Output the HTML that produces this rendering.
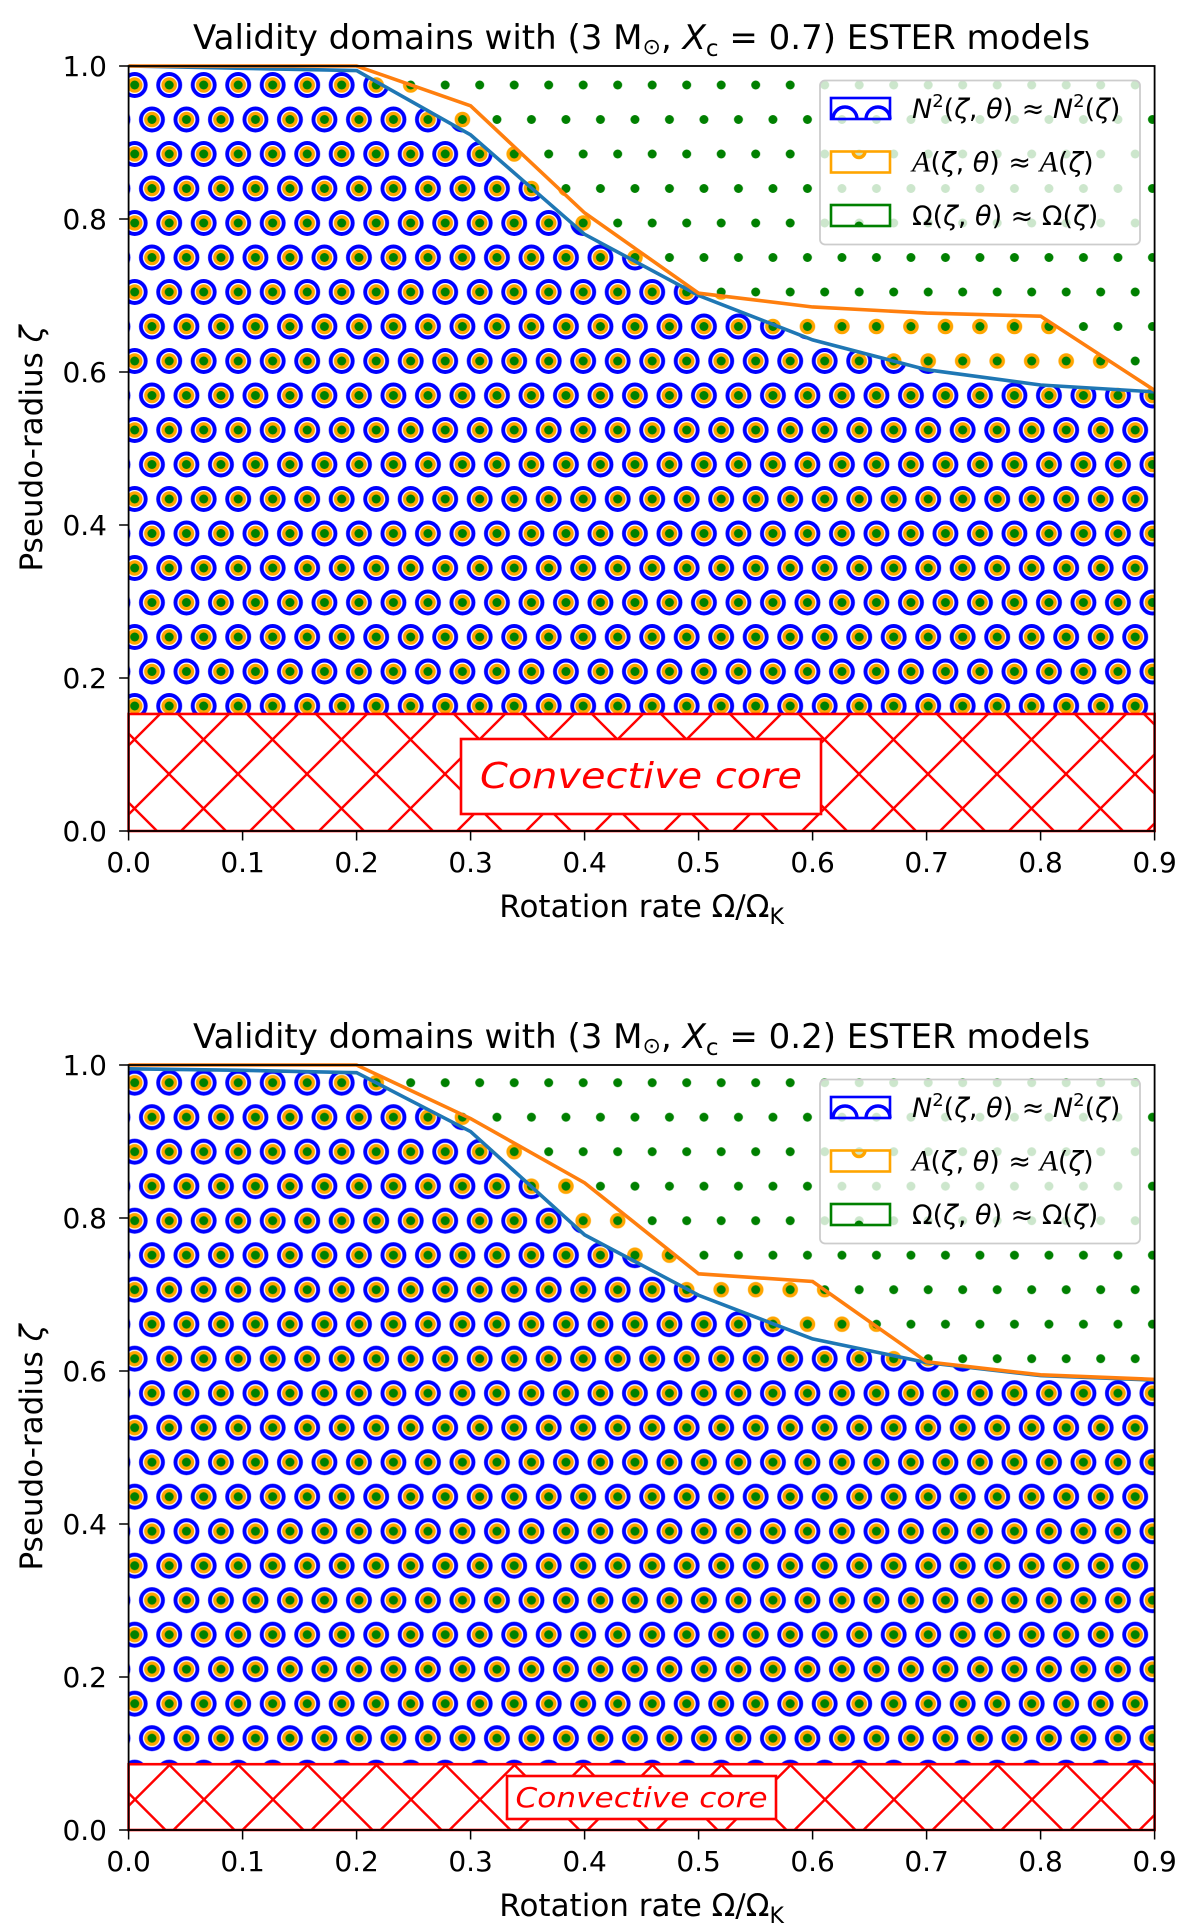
<!DOCTYPE html>
<html><head><meta charset="utf-8"><style>
html,body{margin:0;padding:0;background:#fff;}
svg{display:block;font-family:"DejaVu Sans","Liberation Sans",sans-serif;}
</style></head><body>
<svg id="fig" width="1200" height="1930" viewBox="0 0 1200 1930" xmlns="http://www.w3.org/2000/svg">
<defs>
  <pattern id="patO1" patternUnits="userSpaceOnUse" x="134.7" y="85" width="34.5" height="69">
    <g fill="none" stroke="#0000ff" stroke-width="3.9">
      <circle cx="0" cy="0" r="11"/><circle cx="34.5" cy="0" r="11"/><circle cx="0" cy="69" r="11"/><circle cx="34.5" cy="69" r="11"/><circle cx="17.25" cy="34.5" r="11"/>
    </g>
  </pattern>
  <pattern id="pato1" patternUnits="userSpaceOnUse" x="134.7" y="85" width="34.5" height="69">
    <g fill="none" stroke="#ffa500" stroke-width="4">
      <circle cx="0" cy="0" r="5.8"/><circle cx="34.5" cy="0" r="5.8"/><circle cx="0" cy="69" r="5.8"/><circle cx="34.5" cy="69" r="5.8"/><circle cx="17.25" cy="34.5" r="5.8"/>
    </g>
  </pattern>
  <pattern id="patd1" patternUnits="userSpaceOnUse" x="134.7" y="85" width="34.5" height="69">
    <g fill="#008000">
      <circle cx="0" cy="0" r="4.5"/><circle cx="34.5" cy="0" r="4.5"/><circle cx="0" cy="69" r="4.5"/><circle cx="34.5" cy="69" r="4.5"/><circle cx="17.25" cy="34.5" r="4.5"/>
    </g>
  </pattern>
  <pattern id="patO2" patternUnits="userSpaceOnUse" x="134.7" y="1082.7" width="34.5" height="69">
    <g fill="none" stroke="#0000ff" stroke-width="3.9">
      <circle cx="0" cy="0" r="11"/><circle cx="34.5" cy="0" r="11"/><circle cx="0" cy="69" r="11"/><circle cx="34.5" cy="69" r="11"/><circle cx="17.25" cy="34.5" r="11"/>
    </g>
  </pattern>
  <pattern id="pato2" patternUnits="userSpaceOnUse" x="134.7" y="1082.7" width="34.5" height="69">
    <g fill="none" stroke="#ffa500" stroke-width="4">
      <circle cx="0" cy="0" r="5.8"/><circle cx="34.5" cy="0" r="5.8"/><circle cx="0" cy="69" r="5.8"/><circle cx="34.5" cy="69" r="5.8"/><circle cx="17.25" cy="34.5" r="5.8"/>
    </g>
  </pattern>
  <pattern id="patd2" patternUnits="userSpaceOnUse" x="134.7" y="1082.7" width="34.5" height="69">
    <g fill="#008000">
      <circle cx="0" cy="0" r="4.5"/><circle cx="34.5" cy="0" r="4.5"/><circle cx="0" cy="69" r="4.5"/><circle cx="34.5" cy="69" r="4.5"/><circle cx="17.25" cy="34.5" r="4.5"/>
    </g>
  </pattern>
  <pattern id="patx1" patternUnits="userSpaceOnUse" x="31" y="774" width="69" height="69">
    <g stroke="#ff0000" stroke-width="2.4">
      <line x1="-1" y1="-1" x2="70" y2="70"/><line x1="-1" y1="70" x2="70" y2="-1"/>
      <line x1="-35.5" y1="33.5" x2="35.5" y2="104.5"/><line x1="33.5" y1="-35.5" x2="104.5" y2="35.5"/>
      <line x1="-35.5" y1="35.5" x2="35.5" y2="-35.5"/><line x1="33.5" y1="104.5" x2="104.5" y2="33.5"/>
    </g>
  </pattern>
  <pattern id="patx2" patternUnits="userSpaceOnUse" x="31.5" y="1765" width="69" height="69">
    <g stroke="#ff0000" stroke-width="2.4">
      <line x1="-1" y1="-1" x2="70" y2="70"/><line x1="-1" y1="70" x2="70" y2="-1"/>
      <line x1="-35.5" y1="33.5" x2="35.5" y2="104.5"/><line x1="33.5" y1="-35.5" x2="104.5" y2="35.5"/>
      <line x1="-35.5" y1="35.5" x2="35.5" y2="-35.5"/><line x1="33.5" y1="104.5" x2="104.5" y2="33.5"/>
    </g>
  </pattern>
</defs>
<g id="chart1"></g>
<g id="chart2"></g>
</svg>
<script>
const xRates = [0, 0.1, 0.2, 0.3, 0.4, 0.5, 0.6, 0.7, 0.8, 0.9];
const blueTop = [1.0, 0.997, 0.994, 0.91, 0.78, 0.70, 0.642, 0.603, 0.583, 0.574];
const orangeTop = [1.0, 1.0, 1.0, 0.948, 0.808, 0.703, 0.685, 0.677, 0.673, 0.576];
const coreTop = 0.153;
const blueBottom = [0.995, 0.993, 0.990, 0.913, 0.778, 0.699, 0.642, 0.611, 0.594, 0.588];
const orangeBottom = [1.0, 1.0, 1.0, 0.930, 0.846, 0.727, 0.717, 0.612, 0.595, 0.589];
const coreBottom = 0.086;
const xTicks = ["0.0","0.1","0.2","0.3","0.4","0.5","0.6","0.7","0.8","0.9"];
const yTicks = ["0.0","0.2","0.4","0.6","0.8","1.0"];
const xcTop = "0.7";
const xcBottom = "0.2";

const NS = "http://www.w3.org/2000/svg";
function mk(tag, attrs, parent){
  const e = document.createElementNS(NS, tag);
  for (const k in attrs) e.setAttribute(k, attrs[k]);
  if (parent) parent.appendChild(e);
  return e;
}
const L = 128.6, R = 1154.6;
function X(v){ return L + v / 0.9 * (R - L); }

function drawChart(g, off, idx, blue, orange, core, xc, boxCfg){
  const Y = v => off + 831 - 765 * v;
  const top = Y(1), bot = Y(0), cy = Y(core);
  const blueD = 'M' + xRates.map((x,i)=>X(x)+','+Y(blue[i])).join(' L') + ` L${R},${cy} L${L},${cy} Z`;
  const orD = 'M' + xRates.map((x,i)=>X(x)+','+Y(orange[i])).join(' L') + ` L${R},${cy} L${L},${cy} Z`;

  const reg = mk('path', {d:blueD, fill:'url(#patO'+idx+')'}, g);
  
  
  const reo = mk('path', {d:orD, fill:'url(#pato'+idx+')'}, g);
  
  
  const rg = mk('rect', {x:L, y:top, width:R-L, height:cy-top, fill:'url(#patd'+idx+')'}, g);
  
  

  const bl = mk('polyline', {points: xRates.map((x,i)=>X(x)+','+Y(blue[i])).join(' '), fill:'none', stroke:'#1f77b4', 'stroke-width':3.6}, g);
  
  
  const ol = mk('polyline', {points: xRates.map((x,i)=>X(x)+','+Y(orange[i])).join(' '), fill:'none', stroke:'#ff7f0e', 'stroke-width':3.6}, g);
  
  

  const cr = mk('rect', {x:L, y:cy, width:R-L, height:bot-cy, fill:'url(#patx'+idx+')', stroke:'#ff0000', 'stroke-width':2.6}, g);
  
  
  const bx = mk('rect', {x:boxCfg.x, y:off+boxCfg.y, width:boxCfg.w, height:boxCfg.h, fill:'#fff', stroke:'#ff0000', 'stroke-width':2.6}, g);
  
  
  const bt = mk('text', {x:boxCfg.x+boxCfg.w/2, y:off+boxCfg.y+boxCfg.h/2, 'text-anchor':'middle', 'dominant-baseline':'central', 'font-style':'italic', 'font-size':boxCfg.fs, fill:'#ff0000', textLength:boxCfg.tl, lengthAdjust:'spacingAndGlyphs'}, g);
  bt.textContent = 'Convective core';
  
  

  const fr = mk('rect', {x:L, y:top, width:R-L, height:bot-top, fill:'none', stroke:'#000', 'stroke-width':1.8}, g);
  
  

  xTicks.forEach((t,i)=>{
    const v = parseFloat(t), x = X(v);
    const tk = mk('line', {x1:x, y1:bot, x2:x, y2:bot+9.5, stroke:'#000', 'stroke-width':1.5}, g);
    
    
    const tl = mk('text', {x:x, y:off+872, 'text-anchor':'middle', 'font-size':28}, g);
    tl.textContent = t;
    
    
  });
  yTicks.forEach((t,i)=>{
    const v = parseFloat(t), y = Y(v);
    const tk = mk('line', {x1:L-9.5, y1:y, x2:L, y2:y, stroke:'#000', 'stroke-width':1.5}, g);
    
    
    const tl = mk('text', {x:107, y:y+10, 'text-anchor':'end', 'font-size':28}, g);
    tl.textContent = t;
    
    
  });

  const xl = mk('text', {x:(L+R)/2, y:off+917, 'text-anchor':'middle', 'font-size':31}, g);
  xl.innerHTML = 'Rotation rate Ω/Ω<tspan font-size="22" dy="7">K</tspan>';
  
  
  const yl = mk('text', {x:0, y:0, 'text-anchor':'middle', 'font-size':31, transform:`translate(42,${(top+bot)/2}) rotate(-90)`}, g);
  yl.innerHTML = 'Pseudo-radius <tspan font-style="italic">ζ</tspan>';
  
  

  const ti = mk('text', {x:(L+R)/2, y:off+49, 'text-anchor':'middle', 'font-size':34}, g);
  ti.innerHTML = 'Validity domains with (3 M<tspan font-size="22" dy="5">⊙</tspan><tspan dy="-5">, </tspan><tspan font-style="italic">X</tspan><tspan font-size="23" dy="7">c</tspan><tspan dy="-7"> = ' + xc + ') ESTER models</tspan>';
  
  

  const lg = mk('g', {}, g);
  
  
  mk('rect', {x:820, y:top+14.5, width:320, height:164, rx:5, fill:'rgba(255,255,255,0.8)', stroke:'#cccccc', 'stroke-width':1.8}, lg);
  const rows = [
    {c:'#0000ff', t:'<tspan font-style="italic">N</tspan><tspan font-size="18" dy="-11">2</tspan><tspan dy="11">(</tspan><tspan font-style="italic">ζ</tspan>, <tspan font-style="italic">θ</tspan>) ≈ <tspan font-style="italic">N</tspan><tspan font-size="18" dy="-11">2</tspan><tspan dy="11">(</tspan><tspan font-style="italic">ζ</tspan>)', n:'legend-entry-n2'},
    {c:'#ffa500', t:'<tspan font-family="Liberation Serif" font-style="italic" font-size="30">A</tspan>(<tspan font-style="italic">ζ</tspan>, <tspan font-style="italic">θ</tspan>) ≈ <tspan font-family="Liberation Serif" font-style="italic" font-size="30">A</tspan>(<tspan font-style="italic">ζ</tspan>)', n:'legend-entry-a'},
    {c:'#008000', t:'Ω(<tspan font-style="italic">ζ</tspan>, <tspan font-style="italic">θ</tspan>) ≈ Ω(<tspan font-style="italic">ζ</tspan>)', n:'legend-entry-omega'}
  ];
  rows.forEach((r,i)=>{
    const ry = top + 32 + i*53.5;
    const eg = mk('g', {}, lg);
    
    
    mk('rect', {x:831, y:ry, width:59, height:21, fill:'none', stroke:r.c, 'stroke-width':2.6}, eg);
    if (i===0){
      mk('path', {d:`M833,${ry+21} A12,12 0 0 1 857,${ry+21} M866,${ry+21} A12,12 0 0 1 890,${ry+21}`, fill:'none', stroke:r.c, 'stroke-width':3.4}, eg);
    } else if (i===1){
      mk('path', {d:`M853,${ry} A6,6 0 0 0 865,${ry}`, fill:'none', stroke:r.c, 'stroke-width':3.4}, eg);
    } else {
      mk('path', {d:`M854.5,${ry+21} A4.5,4.5 0 0 1 863.5,${ry+21} Z`, fill:r.c}, eg);
    }
    const tx = mk('text', {x:912, y:ry+20, 'font-size':27}, eg);
    tx.innerHTML = r.t;
  });
}

drawChart(document.getElementById('chart1'), 0, 1, blueTop, orangeTop, coreTop, xcTop,
  {x:461, y:739, w:360, h:75, fs:36, tl:322});
drawChart(document.getElementById('chart2'), 999, 2, blueBottom, orangeBottom, coreBottom, xcBottom,
  {x:507, y:777, w:269, h:43, fs:28, tl:252});
</script>
</body></html>
